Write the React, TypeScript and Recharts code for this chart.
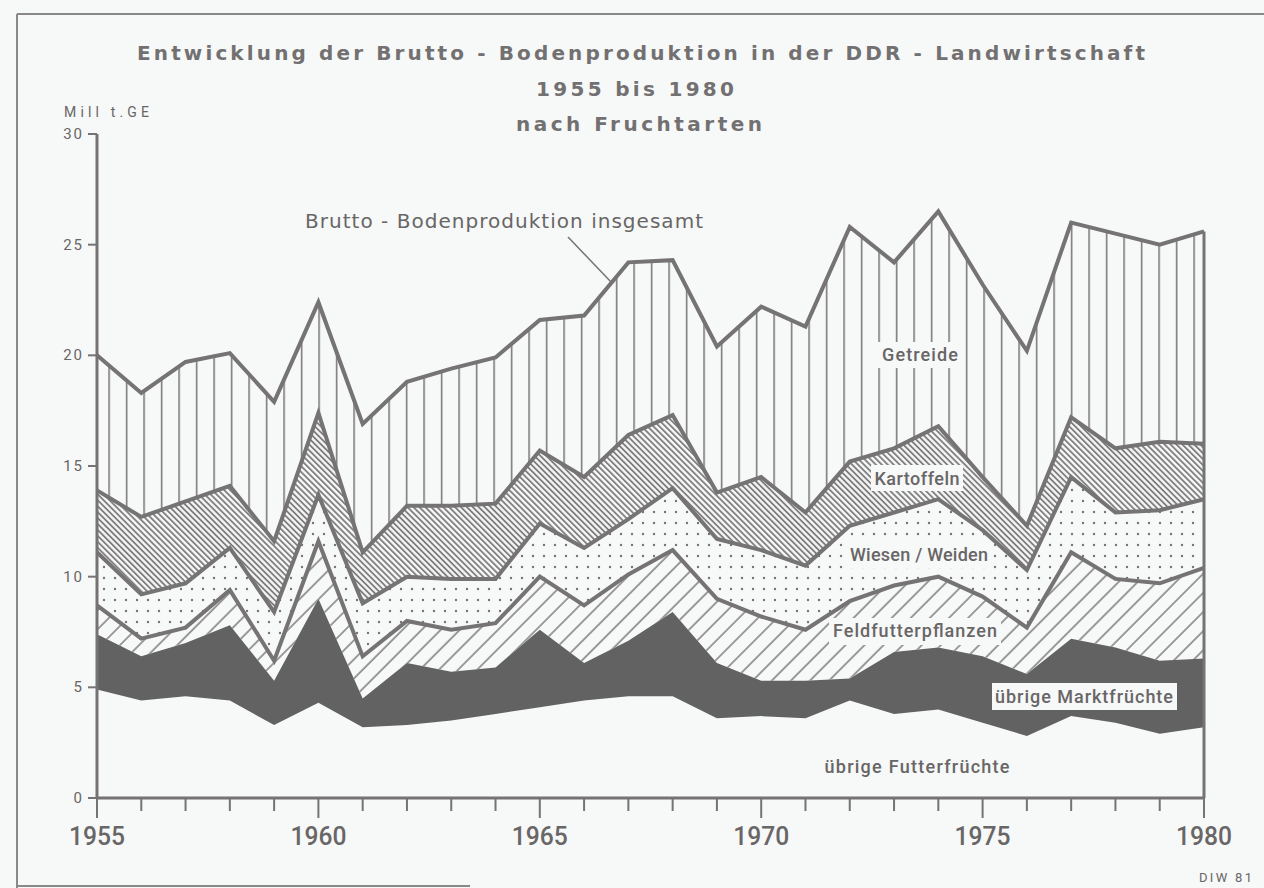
import React from 'react';
import { AreaChart, Area, XAxis, YAxis, ReferenceLine } from 'recharts';

const years = [1955, 1956, 1957, 1958, 1959, 1960, 1961, 1962, 1963, 1964, 1965, 1966, 1967, 1968, 1969, 1970, 1971, 1972, 1973, 1974, 1975, 1976, 1977, 1978, 1979, 1980];
const uebrigeFutterfruechte = [4.9, 4.4, 4.6, 4.4, 3.3, 4.3, 3.2, 3.3, 3.5, 3.8, 4.1, 4.4, 4.6, 4.6, 3.6, 3.7, 3.6, 4.4, 3.8, 4.0, 3.4, 2.8, 3.7, 3.4, 2.9, 3.2];
const uebrigeMarktfruechte = [2.5, 2.0, 2.4, 3.4, 2.0, 4.7, 1.3, 2.8, 2.2, 2.1, 3.5, 1.7, 2.5, 3.8, 2.5, 1.6, 1.7, 1.0, 2.8, 2.8, 3.0, 2.8, 3.5, 3.4, 3.3, 3.1];
const feldfutterpflanzen = [1.3, 0.8, 0.7, 1.6, 0.9, 2.6, 1.9, 1.9, 1.9, 2.0, 2.4, 2.6, 3.0, 2.8, 2.9, 2.9, 2.3, 3.5, 3.0, 3.2, 2.7, 2.1, 3.9, 3.1, 3.5, 4.1];
const wiesenWeiden = [2.4, 2.0, 2.0, 1.9, 2.2, 2.1, 2.4, 2.0, 2.3, 2.0, 2.4, 2.6, 2.5, 2.8, 2.7, 3.0, 2.9, 3.4, 3.3, 3.5, 3.0, 2.6, 3.4, 3.0, 3.3, 3.1];
const kartoffeln = [2.8, 3.5, 3.7, 2.8, 3.2, 3.7, 2.3, 3.2, 3.3, 3.4, 3.3, 3.2, 3.8, 3.3, 2.1, 3.3, 2.4, 2.9, 2.9, 3.3, 2.4, 2.0, 2.7, 2.9, 3.1, 2.5];
const getreide = [6.1, 5.6, 6.3, 6.0, 6.3, 5.0, 5.8, 5.6, 6.2, 6.6, 5.9, 7.3, 7.8, 7.0, 6.6, 7.7, 8.4, 10.6, 8.4, 9.7, 8.7, 7.9, 8.8, 9.7, 8.9, 9.6];

const yTicks = [0, 5, 10, 15, 20, 25, 30];

const data = years.map((year, i) => ({
  year,
  futter: uebrigeFutterfruechte[i],
  markt: uebrigeMarktfruechte[i],
  feld: feldfutterpflanzen[i],
  wiesen: wiesenWeiden[i],
  kartoffeln: kartoffeln[i],
  getreide: getreide[i],
}));

const last = data[data.length - 1];
const lastTotal = last.futter + last.markt + last.feld + last.wiesen + last.kartoffeln + last.getreide;
const lastYear = years[years.length - 1];

const BG = '#f7f8f8';
const LINE = '#757373';
const TEXT = '#686666';
const TITLE = '#727070';
const DARK = '#636262';
const FONT = 'Roboto, "Noto Sans", sans-serif';
const WIDE = '"DejaVu Sans", Verdana, sans-serif';

const XTick = (props: any) => {
  const { x, y, payload } = props;
  const major = payload.value % 5 === 0;
  return (
    <g>
      <line x1={x} x2={x} y1={y} y2={y + (major ? 20 : 13)} stroke={LINE} strokeWidth={2} />
      {major && (
        <text x={x} y={y + 47} textAnchor="middle" fill={TEXT} fontFamily={FONT} fontWeight={500} fontSize={26} textLength={56} lengthAdjust="spacingAndGlyphs">
          {payload.value}
        </text>
      )}
    </g>
  );
};

const YTick = (props: any) => {
  const { x, y, payload } = props;
  return (
    <g>
      <line x1={x - 9} x2={x} y1={y} y2={y} stroke={LINE} strokeWidth={2} />
      <text x={x - 13} y={y + 5} textAnchor="end" fill={TEXT} fontFamily={FONT} fontSize={15} letterSpacing={2}>
        {payload.value}
      </text>
    </g>
  );
};

const Label = ({ cx, baseline, w, text, box, size = 18 }: any) => (
  <g>
    {box && <rect x={box[0]} y={box[1]} width={box[2]} height={box[3]} fill={BG} />}
    <text x={cx} y={baseline} textAnchor="middle" fill={TEXT} fontFamily={FONT} fontWeight={500} fontSize={size} textLength={w} lengthAdjust="spacing">
      {text}
    </text>
  </g>
);

export default function App() {
  return (
    <div style={{ position: 'absolute', left: 0, top: 0, width: 1264, height: 888, background: BG, overflow: 'hidden' }}>
      <svg width={0} height={0} style={{ position: 'absolute' }}>
        <defs>
          <pattern id="patGetreide" patternUnits="userSpaceOnUse" x={108.3} y={0} width={17.5} height={20}>
            <line x1={0.8} x2={0.8} y1={0} y2={20} stroke={LINE} strokeWidth={1.5} />
          </pattern>
          <pattern id="patKartoffeln" patternUnits="userSpaceOnUse" width={4.2} height={10} patternTransform="rotate(-45)">
            <line x1={1} x2={1} y1={0} y2={10} stroke={LINE} strokeWidth={1.7} />
          </pattern>
          <pattern id="patWiesen" patternUnits="userSpaceOnUse" x={2} y={3} width={11} height={11}>
            <circle cx={3} cy={3} r={1.2} fill={LINE} />
          </pattern>
          <pattern id="patFeld" patternUnits="userSpaceOnUse" width={13.5} height={10} patternTransform="rotate(45)">
            <line x1={1} x2={1} y1={0} y2={10} stroke={LINE} strokeWidth={1.4} />
          </pattern>
        </defs>
      </svg>
      <AreaChart width={1264} height={888} data={data} margin={{ top: 134, right: 60, bottom: 40, left: 57 }}>
        <XAxis
          dataKey="year"
          type="number"
          domain={[1955, 1980]}
          ticks={years}
          interval={0}
          tick={<XTick />}
          tickSize={0}
          tickMargin={0}
          height={50}
          tickLine={false}
          axisLine={{ stroke: LINE, strokeWidth: 3 }}
        />
        <YAxis
          type="number"
          domain={[0, 30]}
          ticks={yTicks}
          interval={0}
          tick={<YTick />}
          tickSize={0}
          tickMargin={0}
          width={40}
          tickLine={false}
          axisLine={{ stroke: LINE, strokeWidth: 3 }}
        />
        <Area type="linear" dataKey="futter" stackId="s" stroke="none" fill="none" isAnimationActive={false} />
        <Area type="linear" dataKey="markt" stackId="s" stroke="none" fill={DARK} fillOpacity={1} isAnimationActive={false} />
        <Area type="linear" dataKey="feld" stackId="s" stroke={LINE} strokeWidth={4} fill="url(#patFeld)" fillOpacity={1} isAnimationActive={false} />
        <Area type="linear" dataKey="wiesen" stackId="s" stroke={LINE} strokeWidth={4} fill="url(#patWiesen)" fillOpacity={1} isAnimationActive={false} />
        <Area type="linear" dataKey="kartoffeln" stackId="s" stroke={LINE} strokeWidth={4} fill="url(#patKartoffeln)" fillOpacity={1} isAnimationActive={false} />
        <Area type="linear" dataKey="getreide" stackId="s" stroke={LINE} strokeWidth={4} fill="url(#patGetreide)" fillOpacity={1} isAnimationActive={false} />
        <ReferenceLine segment={[{ x: lastYear, y: 0 }, { x: lastYear, y: lastTotal }]} stroke={LINE} strokeWidth={3} />
      </AreaChart>
      <svg width={1264} height={888} style={{ position: 'absolute', left: 0, top: 0, pointerEvents: 'none' }}>
        <line x1={17} y1={14} x2={1264} y2={14} stroke="#8a8888" strokeWidth={2} />
        <line x1={17} y1={14} x2={17} y2={888} stroke="#8a8888" strokeWidth={2} />
        <line x1={17} y1={886} x2={470} y2={886} stroke="#8a8888" strokeWidth={2} />
        <text x={641} y={60} textAnchor="middle" fill={TITLE} fontFamily={WIDE} fontWeight="bold" fontSize={20} textLength={1008} lengthAdjust="spacing">
          Entwicklung der Brutto - Bodenproduktion in der DDR - Landwirtschaft
        </text>
        <text x={635} y={96} textAnchor="middle" fill={TITLE} fontFamily={WIDE} fontWeight="bold" fontSize={20} textLength={198} lengthAdjust="spacing">
          1955 bis 1980
        </text>
        <text x={639} y={131} textAnchor="middle" fill={TITLE} fontFamily={WIDE} fontWeight="bold" fontSize={20} textLength={246} lengthAdjust="spacing">
          nach Fruchtarten
        </text>
        <text x={64} y={117} fill={TEXT} fontFamily={FONT} fontSize={14} textLength={85} lengthAdjust="spacing">
          Mill t.GE
        </text>
        <text x={1199} y={882} fill={TEXT} fontFamily={FONT} fontSize={13} textLength={53} lengthAdjust="spacing">
          DIW 81
        </text>
        <text x={305} y={228} fill={TEXT} fontFamily={WIDE} fontSize={20} textLength={398} lengthAdjust="spacing">
          Brutto - Bodenproduktion insgesamt
        </text>
        <line x1={568} y1={237} x2={612} y2={283} stroke={LINE} strokeWidth={1.5} />
        <Label cx={920} baseline={361} w={76} text="Getreide" box={[878, 342, 84, 26]} />
        <Label cx={917} baseline={485} w={85} text="Kartoffeln" box={[871, 465, 92, 26]} />
        <Label cx={919} baseline={561} w={138} text="Wiesen / Weiden" box={[846, 542, 146, 26]} />
        <Label cx={915} baseline={637} w={164} text="Feldfutterpflanzen" box={[829, 618, 172, 27]} />
        <Label cx={1084} baseline={703} w={178} text="übrige Marktfrüchte" box={[992, 683, 185, 27]} />
        <Label cx={917} baseline={773} w={185} text="übrige Futterfrüchte" />
      </svg>
    </div>
  );
}
